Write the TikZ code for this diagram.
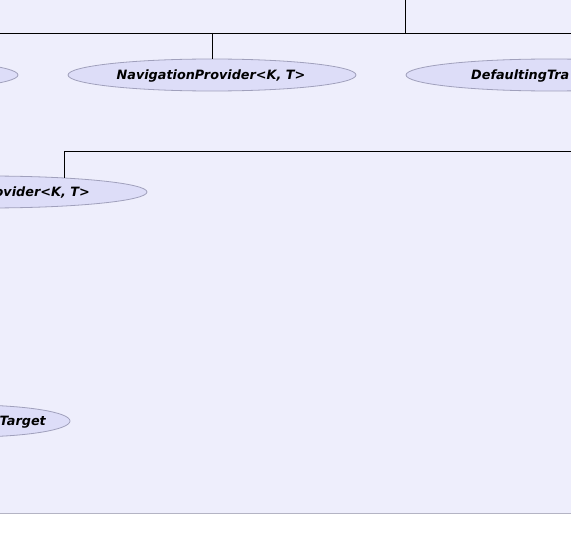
\documentclass[tikz,border=0pt]{standalone}
\usepackage{fontspec}
\newfontfamily\lblfont{DejaVu Sans}
\usetikzlibrary{shapes.geometric}
\definecolor{bgc}{HTML}{EEEEFC}
\definecolor{ellfill}{HTML}{DDDDF8}
\definecolor{elldraw}{HTML}{A0A0BC}
\definecolor{framec}{HTML}{B4B4C4}
\tikzset{
  ell/.style={ellipse, draw=elldraw, fill=ellfill, line width=0.8pt, inner sep=0pt, minimum height=32pt},
  lbl/.style={font=\lblfont\bfseries\itshape\fontsize{12.8}{13}\selectfont, inner sep=0pt, text=black},
  conn/.style={draw=black, line width=0.8pt}
}
\begin{document}
\begin{tikzpicture}[x=1pt,y=-1pt]
\useasboundingbox (0,0) rectangle (571,551);
\clip (0,0) rectangle (571,551);
\fill[white] (0,0) rectangle (571,551);
\draw[framec, fill=bgc, line width=0.8pt] (-10,-10) rectangle (581,513);
% row 1
\node[ell, minimum width=290pt] (l1) at (-127,75) {};
\node[ell, minimum width=288pt] (nav) at (212,75) {};
\node[lbl] (navt) at (211,76) {NavigationProvider<K, T>};
\node[ell, minimum width=290pt] (def) at (551,75) {};
\node[lbl, anchor=west] (deft) at (471,76) {DefaultingTra};
% row 2
\node[ell, minimum width=320pt] (e2) at (-13,192) {};
\node[lbl, anchor=east] (e2t) at (90,193) {ovider<K, T>};
% row 3
\node[ell, minimum width=200pt] (tg) at (-30,421) {};
\node[lbl, anchor=east] (tgt) at (46,422) {Target};
% connectors
\coordinate (ptop) at (405,-2);
\coordinate (pj) at (405,33);
\coordinate (hl) at (-2,33);
\coordinate (hr) at (573,33);
\coordinate (nj) at (212,33);
\draw[conn] (ptop) -- (pj);
\draw[conn] (hl) -- (hr);
\draw[conn] (nj) -- (nav.north);
\coordinate (h2r) at (573,151);
\coordinate (h2l) at (64,151);
\coordinate (e2top) at (64,178);
\draw[conn] (h2r) -- (h2l) -- (e2top);
\end{tikzpicture}
\end{document}
